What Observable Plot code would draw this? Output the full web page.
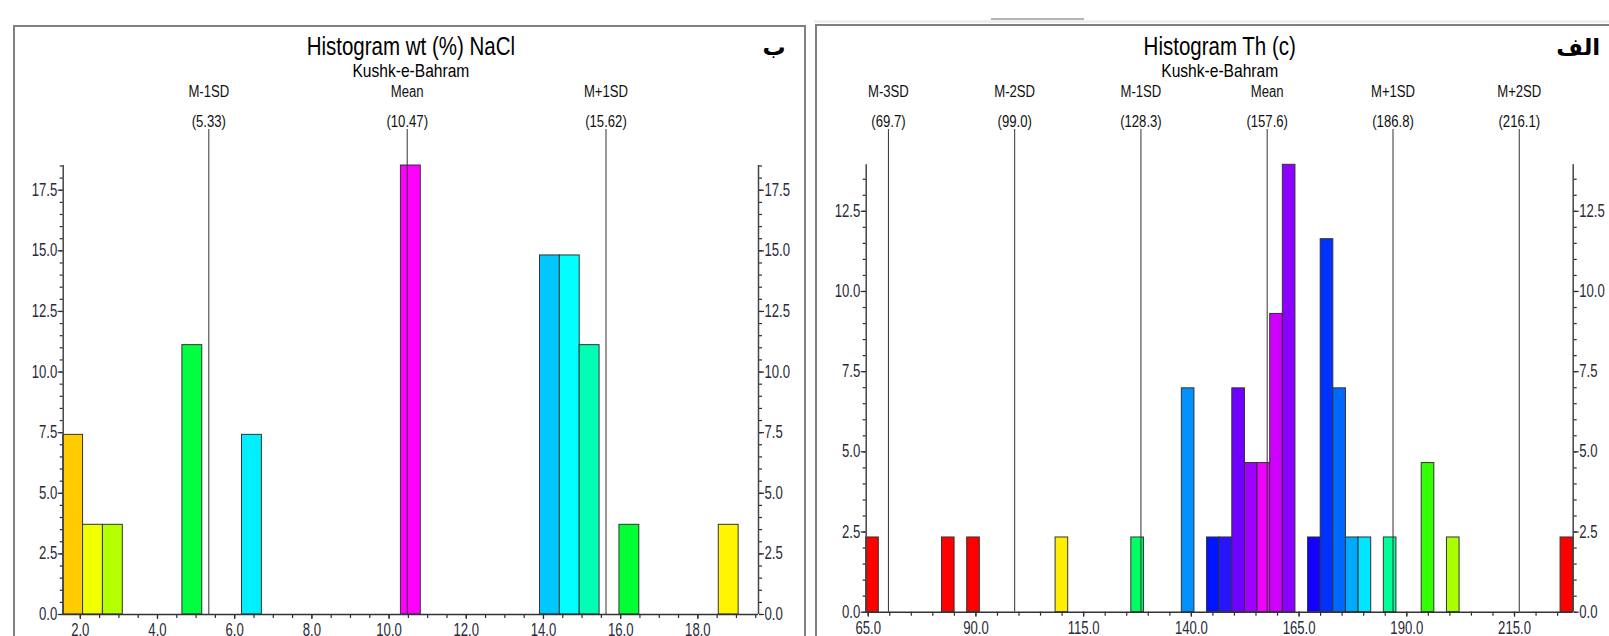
<!DOCTYPE html>
<html><head><meta charset="utf-8">
<script src="https://cdn.jsdelivr.net/npm/d3@7"></script>
<script src="https://cdn.jsdelivr.net/npm/@observablehq/plot@0.6"></script>
<style>
body{margin:0;background:#fff;width:1609px;height:636px;overflow:hidden;position:relative;}
.panel{position:absolute;border:2px solid #808080;border-bottom:none;box-sizing:border-box;}
#p1{left:13px;top:25px;width:793px;height:700px;}
#p2{left:815px;top:24px;width:900px;height:700px;}
#band{position:absolute;left:814px;top:20px;width:800px;height:3px;background:#efefef;}
#tab{position:absolute;left:991px;top:18px;width:93px;height:2px;background:#b4b4b4;}
.chart{position:absolute;top:0;}
</style></head>
<body>
<div id="band"></div><div id="tab"></div>
<div class="panel" id="p1"></div><div class="panel" id="p2"></div>
<div class="chart" id="c1" style="left:0px"></div>
<div class="chart" id="c2" style="left:810px"></div>
<script>
const FONT = '"Liberation Sans",Arial,sans-serif';
const NARROW = 0.82;      // Arial Narrow ≈ 82% of Arial's width
const TICK_NARROW = 0.75; // tick labels are a little more condensed

// ---- Left panel: wt (%) NaCl ----
const leftTitle = "Histogram wt (%) NaCl";
const leftSubtitle = "Kushk-e-Bahram";
const leftLetter = "ب";
const leftBinStart = 1.557, leftBinWidth = 0.5147, leftBinCount = 35;
const leftBins = [0, 1, 2, 6, 9, 17, 24, 25, 26, 28, 33];
const leftPct = [7.41, 3.70, 3.70, 11.11, 7.41, 18.52, 14.81, 14.81, 11.11, 3.70, 3.70];
const leftColors = ["#ffcc00", "#f2ff00", "#b4ff00", "#00ff40", "#00f0ff", "#ff00ff", "#00c8ff", "#00ffff", "#00ffb4", "#00ff33", "#fff500"];
const leftSDNames = ["M-1SD", "Mean", "M+1SD"];
const leftSDValues = [5.33, 10.47, 15.62];
const leftXTicks = [2, 4, 6, 8, 10, 12, 14, 16, 18];
const leftYTicks = [0, 2.5, 5, 7.5, 10, 12.5, 15, 17.5];

// ---- Right panel: Th (c) ----
const rightTitle = "Histogram Th (c)";
const rightSubtitle = "Kushk-e-Bahram";
const rightLetter = "الف";
const rightBinStart = 64.54, rightBinWidth = 2.93, rightBinCount = 56;
const rightBins = [0, 6, 8, 15, 21, 25, 27, 28, 29, 30, 31, 32, 33, 35, 36, 37, 38, 39, 41, 44, 46, 55];
const rightPct = [2.33, 2.33, 2.33, 2.33, 2.33, 6.98, 2.33, 2.33, 6.98, 4.65, 4.65, 9.30, 13.95, 2.33, 11.63, 6.98, 2.33, 2.33, 2.33, 4.65, 2.33, 2.33];
const rightColors = ["#ff0000", "#ff0000", "#ff0000", "#ffee00", "#00ff64", "#0090ff", "#0014ff", "#2814ff", "#7000ff", "#a000ff", "#f000ff", "#d000ff", "#8c00ff", "#1400ff", "#0032ff", "#0068ff", "#00aaff", "#00e6ff", "#00ff96", "#32ff00", "#aaff00", "#ff0000"];
const rightSDNames = ["M-3SD", "M-2SD", "M-1SD", "Mean", "M+1SD", "M+2SD"];
const rightSDValues = [69.7, 99.0, 128.3, 157.6, 186.8, 216.1];
const rightXTicks = [65, 90, 115, 140, 165, 190, 215];
const rightYTicks = [0, 2.5, 5, 7.5, 10, 12.5];

function makeChart(o) {
  const xDomain = [o.start, o.start + o.count * o.bw];
  const data = o.bins.map((b, i) => ({x1: o.start + b * o.bw, x2: o.start + (b + 1) * o.bw, y: o.pct[i], c: o.colors[i]}));
  const yMax = d3.max(o.pct);
  const xMinor = d3.range(o.minorStart, xDomain[1], o.xMinorStep);
  const yMinor = d3.range(0, yMax + 1e-9, 0.5);
  const mt = o.mt;
  const tickCol = "#2a2a3a";
  const axisCommon = {fontSize: 17.5, color: tickCol, strokeWidth: 1.2, label: null};
  return Plot.plot({
    width: o.width, height: o.height,
    marginLeft: o.ml, marginRight: o.mr, marginTop: mt, marginBottom: o.mb,
    x: {domain: xDomain, axis: null},
    y: {domain: [0, yMax], axis: null},
    color: {type: "identity"},
    style: {fontFamily: FONT, background: "transparent", overflow: "visible"},
    marks: [
      Plot.rectY(data, {x1: "x1", x2: "x2", y: "y", fill: "c", stroke: "#333", strokeWidth: 1}),
      Plot.ruleX(o.sdVals, {stroke: "#333", strokeWidth: 1, insetTop: -(mt - 129)}),
      Plot.axisY(o.yTicks, {anchor: "left", tickSize: 5, tickPadding: 1, tickFormat: d => d.toFixed(1), ...axisCommon}),
      Plot.axisY(yMinor, {anchor: "left", tickSize: 3, tickFormat: () => "", ...axisCommon}),
      Plot.axisY(o.yTicks, {anchor: "right", tickSize: 5, tickPadding: 1, tickFormat: d => d.toFixed(1), ...axisCommon}),
      Plot.axisY(yMinor, {anchor: "right", tickSize: 3, tickFormat: () => "", ...axisCommon}),
      Plot.axisX(o.xTicks, {anchor: "bottom", tickSize: 5, tickPadding: 4, tickFormat: d => d.toFixed(1), ...axisCommon}),
      Plot.axisX(xMinor, {anchor: "bottom", tickSize: 4, tickFormat: () => "", ...axisCommon}),
      Plot.ruleY([0], {stroke: "#333", strokeWidth: 1.5}),
      Plot.ruleX([xDomain[0]], {stroke: "#444", strokeWidth: 1.5}),
      Plot.ruleX([xDomain[1]], {stroke: "#444", strokeWidth: 1.5}),
      Plot.text(o.sdVals, {x: d => d, text: (d, i) => o.sdNames[i], frameAnchor: "top", lineAnchor: "middle", dy: 91 - mt, fontSize: 16, fill: "#111"}),
      Plot.text(o.sdVals, {x: d => d, text: d => "(" + d.toFixed(o.sdDigits) + ")", frameAnchor: "top", lineAnchor: "middle", dy: 121 - mt, fontSize: 16, fill: "#111"}),
      Plot.text([o.title], {frameAnchor: "top", lineAnchor: "middle", dy: 46 - mt, fontSize: 25, fill: "#000"}),
      Plot.text([o.subtitle], {frameAnchor: "top", lineAnchor: "middle", dy: 70 - mt, fontSize: 19, fill: "#000"}),
      Plot.text([o.letter], {frameAnchor: "top-right", textAnchor: "end", lineAnchor: "middle", dx: 27, dy: 47 - mt, fontSize: 23, fontWeight: "bold", fontFamily: "DejaVu Sans", fill: "#000"})
    ]
  });
}

function condense(svg) {
  svg.querySelectorAll("text").forEach(t => {
    const s = t.textContent;
    if (!s.trim() || /[\u0600-\u06FF]/.test(s)) return;
    const g = t.closest("g[aria-label]");
    const isTick = g && /tick label/.test(g.getAttribute("aria-label"));
    const k = isTick ? TICK_NARROW : NARROW;
    const L = t.getComputedTextLength();
    t.setAttribute("textLength", (L * k).toFixed(2));
    t.setAttribute("lengthAdjust", "spacingAndGlyphs");
  });
}

const svg1 = makeChart({
  width: 810, height: 636, ml: 62.7, mr: 52, mt: 165, mb: 22,
  start: leftBinStart, bw: leftBinWidth, count: leftBinCount,
  bins: leftBins, pct: leftPct, colors: leftColors,
  sdNames: leftSDNames, sdVals: leftSDValues, sdDigits: 2,
  xTicks: leftXTicks, yTicks: leftYTicks, minorStart: 2, xMinorStep: 0.5,
  title: leftTitle, subtitle: leftSubtitle, letter: leftLetter
});
document.getElementById("c1").appendChild(svg1);
condense(svg1);

const svg2 = makeChart({
  width: 799, height: 636, ml: 55.7, mr: 36.3, mt: 164.3, mb: 24.3,
  start: rightBinStart, bw: rightBinWidth, count: rightBinCount,
  bins: rightBins, pct: rightPct, colors: rightColors,
  sdNames: rightSDNames, sdVals: rightSDValues, sdDigits: 1,
  xTicks: rightXTicks, yTicks: rightYTicks, minorStart: 65, xMinorStep: 5,
  title: rightTitle, subtitle: rightSubtitle, letter: rightLetter
});
document.getElementById("c2").appendChild(svg2);
condense(svg2);
</script>
</body></html>
